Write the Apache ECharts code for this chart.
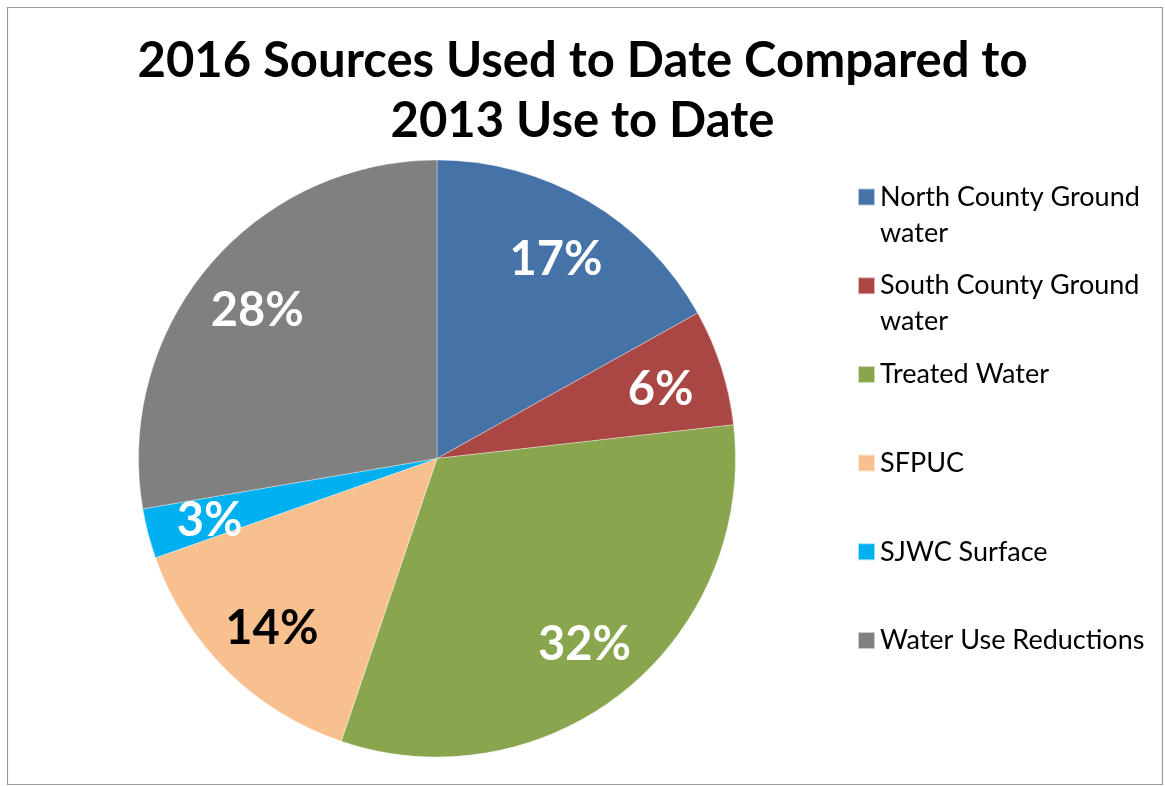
<!DOCTYPE html>
<html>
<head>
<meta charset="utf-8">
<script src="https://cdn.jsdelivr.net/npm/echarts@6/dist/echarts.min.js"></script>
<style>
html,body{margin:0;padding:0;background:#fff;}
#chart{width:1165px;height:786px;}
</style>
</head>
<body>
<div id="chart"></div>
<script>
const titleText = '2016 Sources Used to Date Compared to\n2013 Use to Date';
const categories = ['North County Ground water', 'South County Ground water', 'Treated Water', 'SFPUC', 'SJWC Surface', 'Water Use Reductions'];
const shares = [16.9, 6.3, 32.0, 14.4, 2.7, 27.7];
const colors = ['#4572A7', '#AA4643', '#89A54E', '#F9C08F', '#00B0F0', '#808080'];

const FONT = 'Lato, Carlito, "Open Sans", sans-serif';

// Legend text: wrap long names, and pad each entry to three rows so that
// the first text row lines up with the colour square.
function legendLabel(n) {
  const lines = n.replace(' Ground water', ' Ground\nwater').split('\n');
  const rows = lines.map(l => '{t|' + l + '}');
  while (rows.length < 2) rows.push('{s| }');
  return '{s| }\n' + rows.join('\n');
}

const chart = echarts.init(document.getElementById('chart'), null, {renderer: 'canvas'});
const option = {
  animation: false,
  color: colors,
  graphic: [{
    type: 'rect', silent: true, z: -10,
    shape: {x: 7.5, y: 7.5, width: 1155, height: 777},
    style: {fill: '#fff', stroke: '#9a9a9a', lineWidth: 1.2}
  }],
  title: {
    text: titleText,
    left: 'center',
    top: 31,
    padding: [0, 0, 0, 8],
    textStyle: {fontFamily: FONT, fontWeight: 'bold', fontSize: 49, lineHeight: 60, color: '#000'}
  },
  legend: {
    orient: 'vertical',
    left: 857,
    top: 143,
    padding: 0,
    itemGap: -19.3,
    itemWidth: 17,
    itemHeight: 17,
    icon: 'rect',
    selectedMode: false,
    formatter: legendLabel,
    data: categories,
    textStyle: {
      fontFamily: FONT, fontSize: 27, lineHeight: 36, color: '#000',
      rich: {
        t: {fontFamily: FONT, fontSize: 27, lineHeight: 36, color: '#000'},
        s: {fontFamily: FONT, fontSize: 27, lineHeight: 36}
      }
    }
  },
  series: [{
    type: 'pie',
    center: [437, 458.5],
    radius: [0, 298.5],
    startAngle: 90,
    clockwise: true,
    label: {show: false},
    labelLine: {show: false},
    itemStyle: {borderColor: 'rgba(255,255,255,0.6)', borderWidth: 0.6},
    emphasis: {disabled: true},
    data: categories.map((n, i) => ({name: n, value: shares[i]}))
  }, {
    type: 'pie',
    center: [437, 462],
    radius: [180, 284],
    startAngle: 90,
    clockwise: true,
    silent: true,
    itemStyle: {color: 'transparent', borderWidth: 0},
    labelLine: {show: false},
    emphasis: {disabled: true},
    label: {
      show: true,
      position: 'inside',
      fontFamily: FONT,
      fontWeight: 'bold',
      fontSize: 47,
      formatter: p => Math.round(p.percent) + '%'
    },
    data: categories.map((n, i) => ({
      name: n, value: shares[i],
      label: {color: n === 'SFPUC' ? '#000' : '#fff'}
    }))
  }]
};
chart.setOption(option);
</script>
</body>
</html>
